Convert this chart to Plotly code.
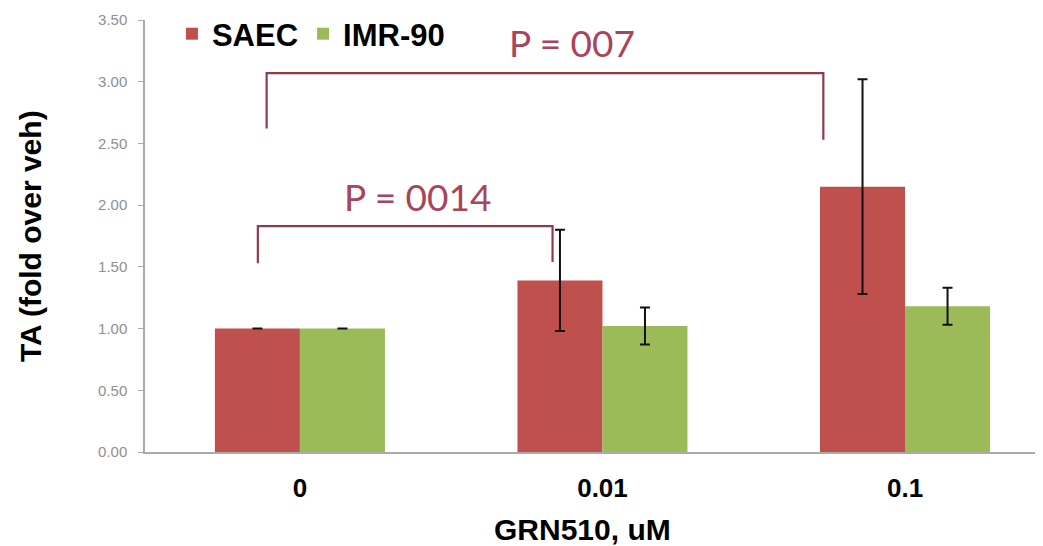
import plotly.graph_objects as go

# ---- data ----
categories = ["0", "0.01", "0.1"]
saec_values = [1.00, 1.39, 2.15]
saec_errors = [0.0, 0.41, 0.87]
imr_values = [1.00, 1.02, 1.18]
imr_errors = [0.0, 0.15, 0.15]
y_ticks = [0.0, 0.5, 1.0, 1.5, 2.0, 2.5, 3.0, 3.5]

# significance brackets
bracket_labels = ["P = 0014", "P = 007"]
bracket_groups = [(0, 1), (0, 2)]
bracket_dx = [(-0.139, -0.165), (-0.11, -0.27)]
bracket_top = [1.83, 3.07]
bracket_bottoms = [(1.53, 1.54), (2.62, 2.53)]
bracket_label_x = [0.39, 0.90]
bracket_label_y = [2.07, 3.32]

RED = "#c0504d"
GREEN = "#9bbb59"
BRACKET = "#8e3b4c"
PTEXT = "#a8455c"
FONT = "Liberation Sans, Arial, sans-serif"

x_idx = list(range(len(categories)))

fig = go.Figure()
fig.add_trace(go.Bar(
    name="SAEC", x=x_idx, y=saec_values, marker_color=RED, marker_line_width=0,
    error_y=dict(type="data", array=saec_errors, color="#111111", thickness=2, width=5),
))
fig.add_trace(go.Bar(
    name="IMR-90", x=x_idx, y=imr_values, marker_color=GREEN, marker_line_width=0,
    error_y=dict(type="data", array=imr_errors, color="#111111", thickness=2, width=5),
))

shapes = []
annotations = []
for (g0, g1), (d0, d1), top, (b0, b1), lab, lx, ly in zip(
        bracket_groups, bracket_dx, bracket_top, bracket_bottoms,
        bracket_labels, bracket_label_x, bracket_label_y):
    xa, xb = g0 + d0, g1 + d1
    path = f"M {xa},{b0} L {xa},{top} L {xb},{top} L {xb},{b1}"
    shapes.append(dict(type="path", path=path, xref="x", yref="y",
                       line=dict(color=BRACKET, width=2.2)))
    annotations.append(dict(x=lx, y=ly, xref="x", yref="y", text=lab, showarrow=False,
                            font=dict(family="Lato, Liberation Sans, sans-serif", size=37, color=PTEXT)))

annotations.append(dict(
    x=-0.128, y=0.5, xref="paper", yref="paper", text="TA (fold over veh)",
    textangle=-90, showarrow=False, xanchor="center", yanchor="middle",
    font=dict(family=FONT, size=30, color="#000000", weight="bold")))
annotations.append(dict(
    x=0.487, y=-0.18, xref="paper", yref="paper", text="GRN510, uM",
    showarrow=False, xanchor="center", yanchor="middle",
    font=dict(family=FONT, size=30, color="#000000", weight="bold")))

# page body has an 8px margin, so the figure is shrunk by 8px and margins shifted
fig.update_layout(
    width=1035, height=538,
    margin=dict(l=137, r=0, t=12, b=94, autoexpand=False),
    paper_bgcolor="white", plot_bgcolor="white",
    barmode="group", bargap=0.438, bargroupgap=0,
    shapes=shapes, annotations=annotations,
    font=dict(family=FONT),
    legend=dict(
        orientation="h", x=0.03, y=1.03, xanchor="left", yanchor="top",
        font=dict(family=FONT, size=31, color="#000000", weight="bold"),
        bgcolor="rgba(0,0,0,0)", itemwidth=30, traceorder="normal",
    ),
    xaxis=dict(
        range=[-0.512, 2.456], tickmode="array", tickvals=x_idx, ticktext=categories,
        showline=True, linecolor="#aaaaaa", linewidth=1.5, ticks="", showgrid=False,
        zeroline=False, ticklabelstandoff=12,
        tickfont=dict(family=FONT, size=26, color="#000000", weight="bold"),
    ),
    yaxis=dict(
        range=[0, 3.5], tickmode="array", tickvals=y_ticks,
        ticktext=[f"{v:.2f}" for v in y_ticks],
        showline=True, linecolor="#aaaaaa", linewidth=1.5, ticks="outside",
        ticklen=5, tickcolor="#aaaaaa", showgrid=False, zeroline=False,
        ticklabelstandoff=8,
        tickfont=dict(family=FONT, size=15, color="#909090"),
    ),
)

fig.write_html("out.html")
